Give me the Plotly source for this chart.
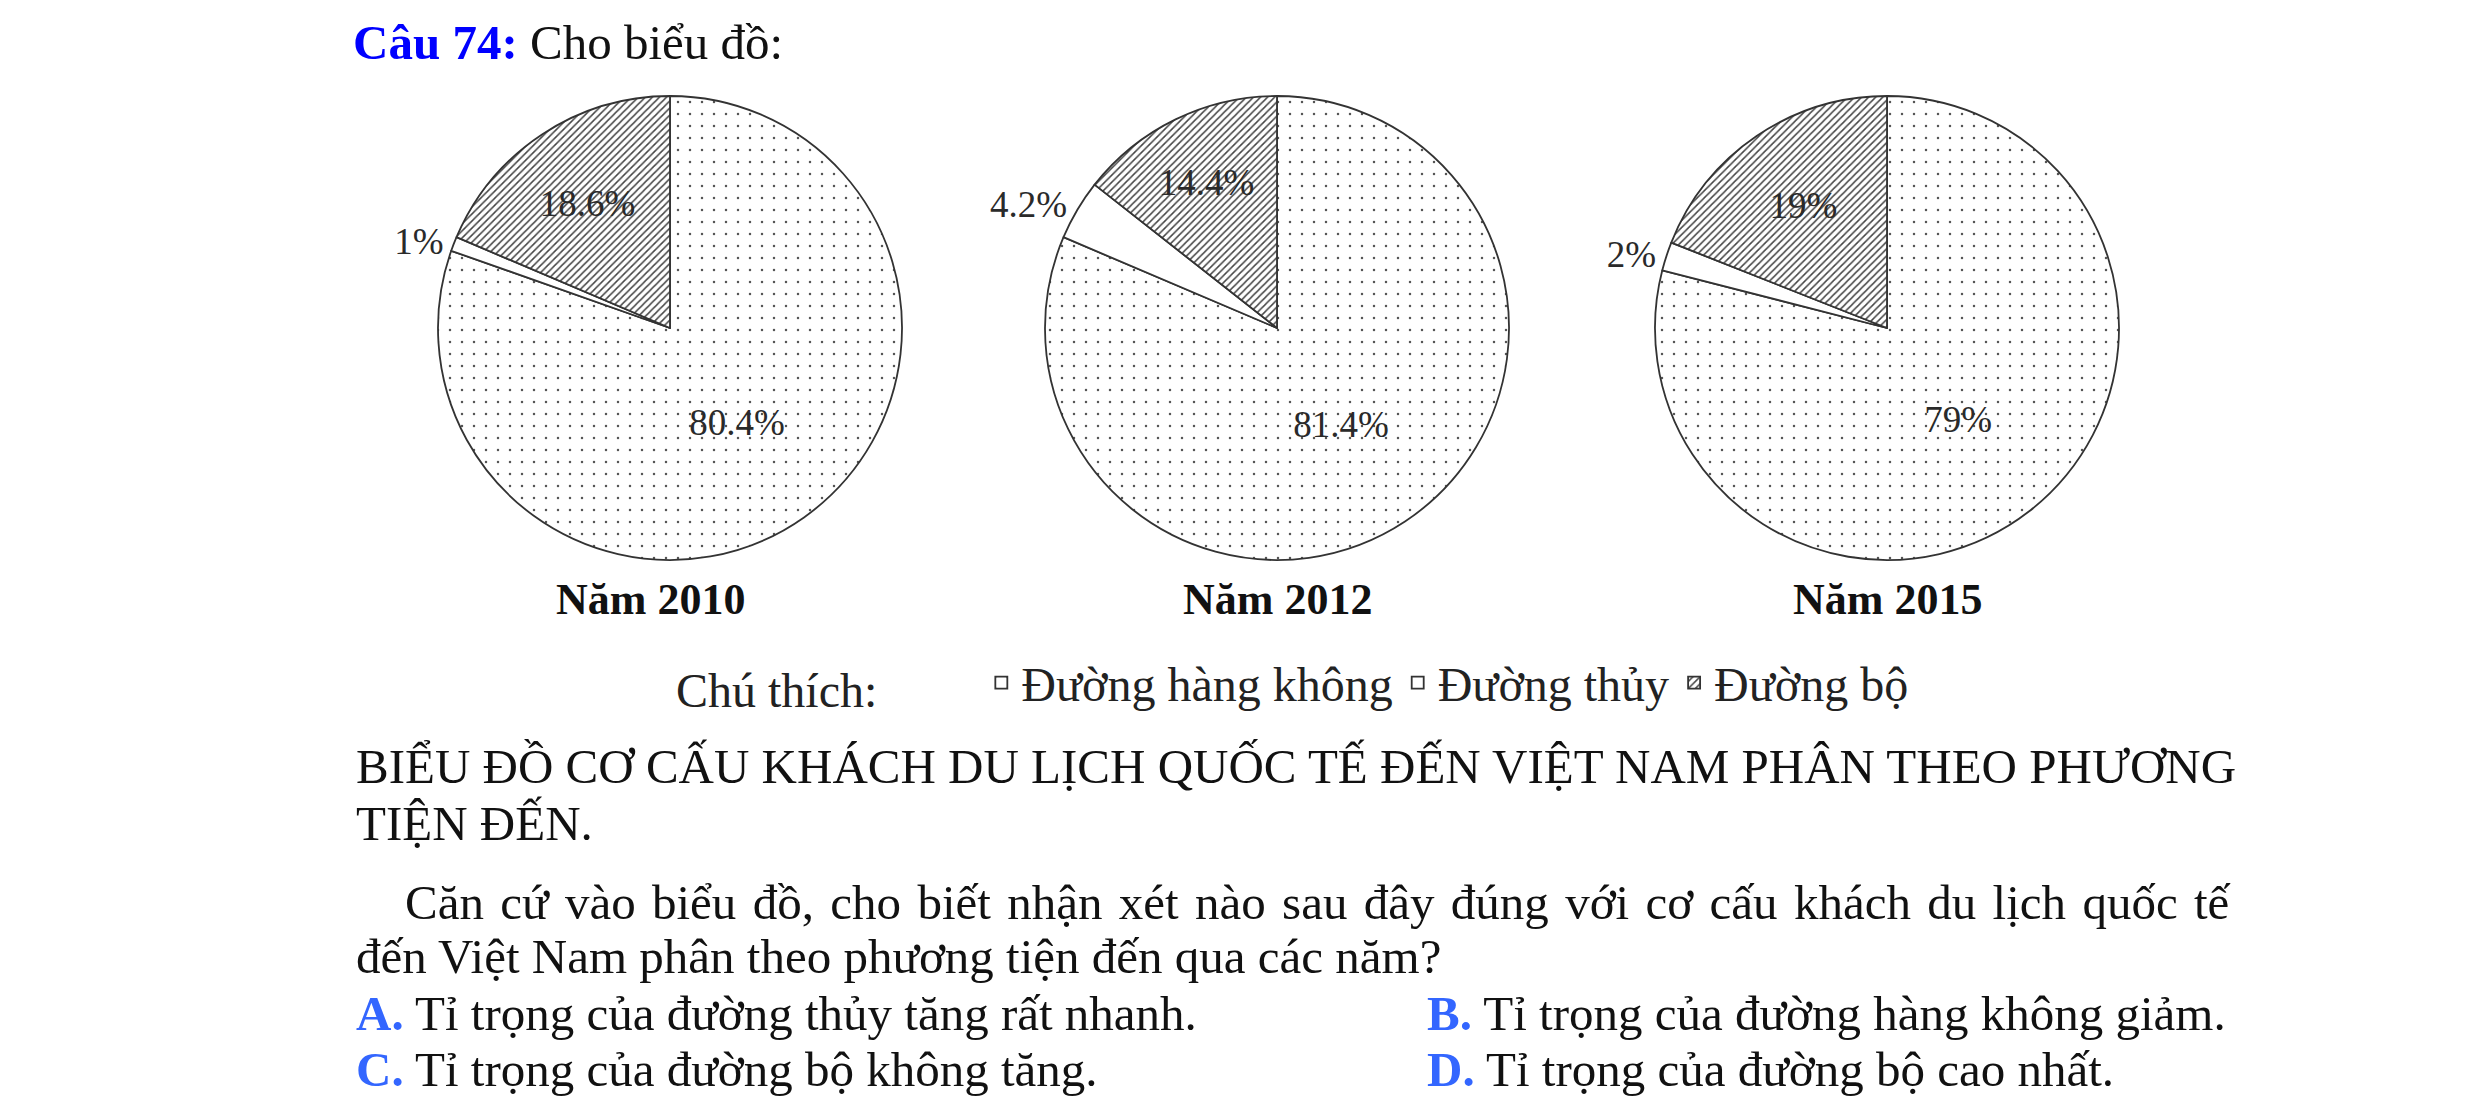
import plotly.graph_objects as go

# 1. Données (cơ cấu khách du lịch quốc tế, %)
phuong_tien = ["Đường hàng không", "Đường thủy", "Đường bộ"]
nam = ["Năm 2010", "Năm 2012", "Năm 2015"]
nam_2010 = [80.4, 1, 18.6]
nam_2012 = [81.4, 4.2, 14.4]
nam_2015 = [79, 2, 19]
gia_tri = [nam_2010, nam_2012, nam_2015]

# textes de la question
cau_so = "Câu 74:"
dan_nhap = "Cho biểu đồ:"
tieu_de_1 = "BIỂU ĐỒ CƠ CẤU KHÁCH DU LỊCH QUỐC TẾ ĐẾN VIỆT NAM PHÂN THEO PHƯƠNG"
tieu_de_2 = "TIỆN ĐẾN."
cau_hoi_1 = "Căn cứ vào biểu đồ, cho biết nhận xét nào sau đây đúng với cơ cấu khách du lịch quốc tế"
cau_hoi_2 = "đến Việt Nam phân theo phương tiện đến qua các năm?"
dap_an_chu = ["A.", "B.", "C.", "D."]
dap_an = [
    "Tỉ trọng của đường thủy tăng rất nhanh.",
    "Tỉ trọng của đường hàng không giảm.",
    "Tỉ trọng của đường bộ không tăng.",
    "Tỉ trọng của đường bộ cao nhất.",
]

W, H = 2481, 1104
SERIF = "Liberation Serif, Times New Roman, serif"


def px(x, y):
    # pixels (depuis le coin haut-gauche) -> coordonnées papier
    return x / W, 1 - y / H


def justifier(t, espace="\u200a"):
    # ligne justifiée dans l'original : on élargit un peu les espaces
    return t.replace(" ", " " + espace)


def generer_graphique():
    fig = go.Figure()

    # 2. Les trois camemberts
    centres = [670, 1277, 1887]
    cy, r = 328, 232
    for i, vals in enumerate(gia_tri):
        cx = centres[i]
        fig.add_trace(go.Pie(
            labels=phuong_tien,
            values=vals,
            sort=False,
            direction="clockwise",
            rotation=0,
            domain=dict(x=[(cx - r) / W, (cx + r) / W],
                        y=[1 - (cy + r) / H, 1 - (cy - r) / H]),
            marker=dict(
                colors=["white", "white", "white"],
                line=dict(color="#333333", width=1.8),
                pattern=dict(shape=[".", "", "/"],
                             fgcolor=["#555555", "#555555", "#444444"],
                             bgcolor=["white", "white", "white"],
                             size=[12, 8, 5],
                             solidity=[0.035, 0.1, 0.3]),
            ),
            texttemplate="%{value}%",
            textposition=["inside", "outside", "inside"],
            insidetextorientation="horizontal",
            textfont=dict(family=SERIF, size=37, color="#2a2a2a"),
            hoverinfo="label+percent",
            showlegend=(i == 0),
        ))

    # 3. Textes autour du graphique
    notes = []
    x, y = px(351, 42)
    notes.append(dict(x=x, y=y, xanchor="left",
                      text="<b><span style='color:#0000FF'>" + cau_so + "</span></b> " + dan_nhap,
                      font=dict(size=49)))
    for i, ten in enumerate(nam):
        x, y = px([650, 1277, 1887][i], 599)
        notes.append(dict(x=x, y=y, xanchor="center", text="<b>" + ten + "</b>",
                          font=dict(size=44)))
    lignes = [(354, 766, tieu_de_1), (354, 823, tieu_de_2),
              (403, 902, justifier(cau_hoi_1)), (354, 956, cau_hoi_2)]
    for lx, ly, t in lignes:
        x, y = px(lx, ly)
        notes.append(dict(x=x, y=y, xanchor="left", text=t, font=dict(size=49)))
    pos_dap_an = [(354, 1013), (1425, 1013), (354, 1069), (1425, 1069)]
    for (lx, ly), chu, t in zip(pos_dap_an, dap_an_chu, dap_an):
        x, y = px(lx, ly)
        notes.append(dict(x=x, y=y, xanchor="left",
                          text="<b><span style='color:#3366FF'>" + chu + "</span></b> " + t,
                          font=dict(size=49)))
    for n in notes:
        n.update(xref="paper", yref="paper", yanchor="middle", showarrow=False)
        n["font"].update(family=SERIF, color="#111111")

    lx, ly = px(674, 683)
    fig.update_layout(
        width=W, height=H,
        margin=dict(l=0, r=0, t=0, b=0),
        paper_bgcolor="white",
        font=dict(family=SERIF, color="#111111"),
        annotations=notes,
        legend=dict(
            orientation="h", x=lx, y=ly, xanchor="left", yanchor="middle",
            title=dict(text="Chú thích:" + "\u00a0" * 8, side="left",
                       font=dict(family=SERIF, size=48, color="#222222")),
            font=dict(family=SERIF, size=48, color="#222222"),
            traceorder="normal",
        ),
    )

    fig.write_html("out.html", config={"displayModeBar": False},
                   post_script="document.body.style.margin='0';")


if __name__ == "__main__":
    generer_graphique()
